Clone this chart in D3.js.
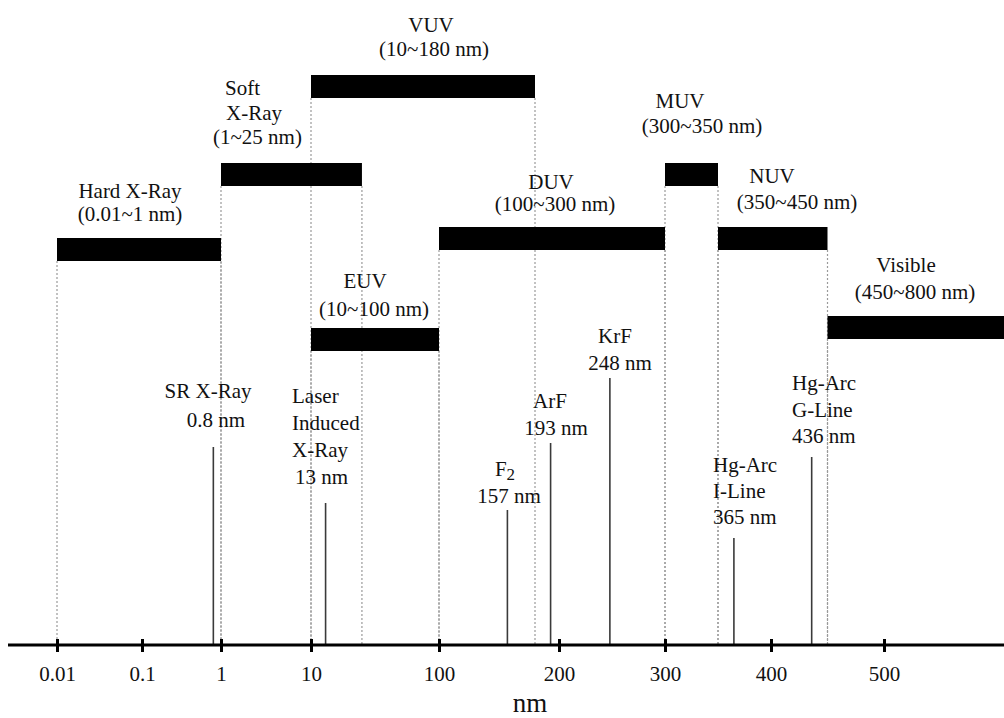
<!DOCTYPE html>
<html>
<head>
<meta charset="utf-8">
<script src="https://cdn.jsdelivr.net/npm/d3@7"></script>
<style>
  html, body { margin: 0; padding: 0; background: #fff; }
  svg { display: block; }
  text { font-family: "Liberation Serif", "Times New Roman", serif; fill: #111; }
</style>
</head>
<body>
<svg id="chart" width="1004" height="718"></svg>
<script>
// ---- data -------------------------------------------------------------
// Spectral bands (nm)
const bandNames  = ["Hard X-Ray", "Soft X-Ray", "VUV", "EUV", "DUV", "MUV", "NUV", "Visible"];
const bandStart  = [0.01, 1, 10, 10, 100, 300, 350, 450];
const bandEnd    = [1, 25, 180, 100, 300, 350, 450, 800];

// Light sources (nm)
const sourceNames = ["SR X-Ray", "Laser Induced X-Ray", "F2", "ArF", "KrF", "Hg-Arc I-Line", "Hg-Arc G-Line"];
const sourceWavelengths = [0.8, 13, 157, 193, 248, 365, 436];

// Axis ticks
const tickValues = [0.01, 0.1, 1, 10, 100, 200, 300, 400, 500];
const tickLabels = ["0.01", "0.1", "1", "10", "100", "200", "300", "400", "500"];

// ---- layout -----------------------------------------------------------
const axisY = 645;
const barH = 23;
const bandRowTop = [238, 163, 75, 328, 227, 163, 227, 316];
const sourceTop  = [447, 503, 510, 443, 378, 538, 457];

// Label blocks: anchor, line x positions, first baseline, line spacing
const bandLabelLayout = [
  { anchor: "middle", xs: [130, 130], y: 198, lh: 23 },
  { anchor: "start",  xs: [225, 226, 213], y: 95, lh: 24.5 },
  { anchor: "middle", xs: [431, 434], y: 32, lh: 24 },
  { anchor: "middle", xs: [365, 374], y: 288, lh: 28 },
  { anchor: "middle", xs: [551, 555], y: 189, lh: 22 },
  { anchor: "middle", xs: [680, 702], y: 108, lh: 25 },
  { anchor: "middle", xs: [772, 797], y: 183, lh: 26 },
  { anchor: "middle", xs: [906, 915], y: 272, lh: 27 }
];
const sourceLabelLayout = [
  { anchor: "middle", xs: [208, 216], y: 398, lh: 29 },
  { anchor: "start",  xs: [292, 292, 292, 295], y: 403, lh: 27 },
  { anchor: "middle", xs: [505, 509], y: 476, lh: 27 },
  { anchor: "middle", xs: [550, 556], y: 408, lh: 27 },
  { anchor: "middle", xs: [615, 620], y: 343, lh: 27 },
  { anchor: "start",  xs: [713, 713, 713], y: 472, lh: 26 },
  { anchor: "start",  xs: [792, 792, 792], y: 390, lh: 26.5 }
];

// ---- scale ------------------------------------------------------------
// Logarithmic up to 100 nm, linear beyond it.
const toT = v => v <= 100 ? Math.log10(v) : 2 + (v - 100) / 100;
const xt = d3.scaleLinear()
  .domain(tickValues.map(toT))
  .range([57, 142, 221, 311, 439, 559, 665, 771, 884]);
const x = v => xt(toT(v));

const svg = d3.select("#chart");

// ---- dotted guides from band ends down to the axis ---------------------
const guides = [];
bandNames.forEach((n, i) => {
  const yb = bandRowTop[i] + barH;
  [bandStart[i], bandEnd[i]].forEach(v => {
    if (x(v) <= 1004) guides.push({ v, y: yb });
  });
});
svg.append("g")
  .selectAll("line")
  .data(guides)
  .join("line")
  .attr("x1", d => x(d.v)).attr("x2", d => x(d.v))
  .attr("y1", d => d.y).attr("y2", axisY)
  .attr("stroke", "#9a9a9a")
  .attr("stroke-width", 1.2)
  .attr("stroke-dasharray", "2,2");

// ---- band bars --------------------------------------------------------
svg.append("g")
  .selectAll("rect")
  .data(bandNames)
  .join("rect")
  .attr("x", (d, i) => x(bandStart[i]))
  .attr("y", (d, i) => bandRowTop[i])
  .attr("width", (d, i) => x(bandEnd[i]) - x(bandStart[i]))
  .attr("height", barH)
  .attr("fill", "#000");

// ---- source lines -----------------------------------------------------
svg.append("g")
  .selectAll("line")
  .data(sourceNames)
  .join("line")
  .attr("x1", (d, i) => x(sourceWavelengths[i]))
  .attr("x2", (d, i) => x(sourceWavelengths[i]))
  .attr("y1", (d, i) => sourceTop[i])
  .attr("y2", axisY)
  .attr("stroke", "#3a3a3a")
  .attr("stroke-width", 1.6);

// ---- axis -------------------------------------------------------------
svg.append("line")
  .attr("x1", 8).attr("x2", 1004)
  .attr("y1", axisY).attr("y2", axisY)
  .attr("stroke", "#000").attr("stroke-width", 3);

const axis = d3.axisBottom(xt)
  .tickValues(tickValues.map(toT))
  .tickFormat((d, i) => tickLabels[i])
  .tickSize(7)
  .tickPadding(20);

const gAxis = svg.append("g")
  .attr("transform", `translate(0,${axisY - 6})`)
  .call(axis);
gAxis.select(".domain").remove();
gAxis.selectAll(".tick line").attr("stroke", "#000").attr("stroke-width", 3).attr("y2", 13);
gAxis.selectAll(".tick text")
  .attr("font-family", "Liberation Serif, Times New Roman, serif")
  .attr("font-size", 21)
  .attr("fill", "#111");

svg.append("text")
  .attr("x", 530).attr("y", 712)
  .attr("text-anchor", "middle")
  .attr("font-size", 27)
  .text("nm");

// ---- labels -----------------------------------------------------------
function drawLabel(lines, layout) {
  const g = svg.append("g").attr("font-size", 21);
  lines.forEach((ln, j) => {
    const t = g.append("text")
      .attr("x", layout.xs[j])
      .attr("y", layout.y + j * layout.lh)
      .attr("text-anchor", layout.anchor);
    if (typeof ln === "string") t.text(ln);
    else {
      t.append("tspan").text(ln.base);
      t.append("tspan").attr("dy", 4).attr("font-size", 17).text(ln.sub);
    }
  });
}

const rangeText = i => `(${bandStart[i]}~${bandEnd[i]} nm)`;
bandNames.forEach((n, i) => {
  const head = n === "Soft X-Ray" ? ["Soft", "X-Ray"] : [n];
  drawLabel([...head, rangeText(i)], bandLabelLayout[i]);
});

sourceNames.forEach((n, i) => {
  let head;
  if (n === "F2") head = [{ base: "F", sub: "2" }];
  else if (n === "Laser Induced X-Ray") head = ["Laser", "Induced", "X-Ray"];
  else if (n.startsWith("Hg-Arc")) head = ["Hg-Arc", n.replace("Hg-Arc ", "")];
  else head = [n];
  drawLabel([...head, `${sourceWavelengths[i]} nm`], sourceLabelLayout[i]);
});
</script>
</body>
</html>
